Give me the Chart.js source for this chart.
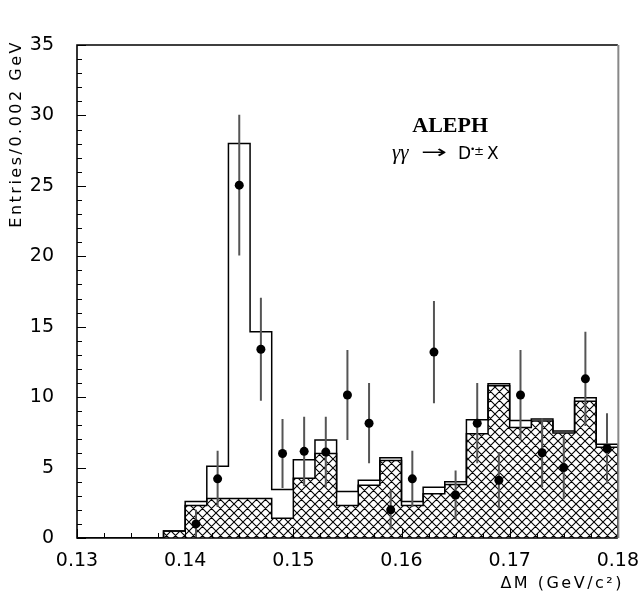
<!DOCTYPE html>
<html>
<head>
<meta charset="utf-8">
<script src="https://cdn.jsdelivr.net/npm/chart.js@4.4.0/dist/chart.umd.min.js"></script>
<style>
  html, body { margin: 0; padding: 0; background: #fff; }
  canvas { display: block; }
</style>
</head>
<body>
<canvas id="aleph" width="643" height="603"></canvas>
<script>
// края бинов (шаг 0.002 GeV)
const binEdges = [0.130, 0.132, 0.134, 0.136, 0.138, 0.140, 0.142, 0.144, 0.146, 0.148,
  0.150, 0.152, 0.154, 0.156, 0.158, 0.160, 0.162, 0.164, 0.166, 0.168,
  0.170, 0.172, 0.174, 0.176, 0.178, 0.180];

// сигнал + фон (открытая гистограмма)
const totalValues = [0, 0, 0, 0, 0.5, 2.6, 5.1, 28.0, 14.65, 3.45,
  5.55, 6.95, 3.3, 4.1, 5.7, 2.6, 3.6, 4.0, 8.4, 10.95,
  8.35, 8.45, 7.6, 9.95, 6.65];

// фон (заштрихованная гистограмма)
const bgValues = [0, 0, 0, 0, 0.5, 2.3, 2.8, 2.8, 2.8, 1.4,
  4.25, 6.0, 2.3, 3.75, 5.5, 2.3, 3.15, 3.8, 7.4, 10.8,
  7.85, 8.3, 7.45, 9.7, 6.45];

// точки данных с ошибками
const pointX = [0.141, 0.143, 0.145, 0.147, 0.149, 0.151, 0.153, 0.155, 0.157, 0.159,
  0.161, 0.163, 0.165, 0.167, 0.169, 0.171, 0.173, 0.175, 0.177, 0.179];
const pointY = [1.0, 4.2, 25.05, 13.4, 6.0, 6.15, 6.1, 10.15, 8.15, 2.0,
  4.2, 13.2, 3.05, 8.15, 4.1, 10.15, 6.05, 5.0, 11.3, 6.35];
const pointErr = [1.0, 2.0, 5.0, 3.65, 2.45, 2.45, 2.5, 3.2, 2.85, 1.4,
  2.0, 3.63, 1.75, 2.85, 2.0, 3.2, 2.45, 2.25, 3.35, 2.5];

// подписи осей
const xTickValues = [0.13, 0.14, 0.15, 0.16, 0.17, 0.18];
const yTickValues = [0, 5, 10, 15, 20, 25, 30, 35];
const xMinorStep = 0.0025;
const yMinorStep = 1;

// ступенчатая линия гистограммы
function histPoints(values) {
  const last = binEdges.length - 1;
  const pts = [{x: binEdges[0], y: 0}];
  values.forEach((v, i) => pts.push({x: binEdges[i], y: v}));
  pts.push({x: binEdges[last], y: values[values.length - 1]});
  pts.push({x: binEdges[last], y: 0});
  return pts;
}

// вертикальные отрезки ошибок, разрывы через null
const errPoints = [];
pointX.forEach((x, i) => {
  errPoints.push({x: x, y: pointY[i] - pointErr[i]});
  errPoints.push({x: x, y: pointY[i] + pointErr[i]});
  errPoints.push({x: x, y: null});
});

// штриховка
const hatchCanvas = document.createElement('canvas');
const hs = 9;
hatchCanvas.width = hs;
hatchCanvas.height = hs;
const hc = hatchCanvas.getContext('2d');
hc.strokeStyle = '#000';
hc.lineWidth = 1.1;
hc.beginPath();
[-hs, 0, hs].forEach(k => {
  hc.moveTo(k, 0); hc.lineTo(k + hs, hs);
  hc.moveTo(k + hs, 0); hc.lineTo(k, hs);
});
hc.stroke();
const ctx = document.getElementById('aleph').getContext('2d');
const hatch = ctx.createPattern(hatchCanvas, 'repeat');

// рамка, засечки и надписи
const framePlugin = {
  id: 'frame',
  afterDraw(chart) {
    const c = chart.ctx;
    const a = chart.chartArea;
    const xs = chart.scales.x;
    const ys = chart.scales.y;
    c.save();

    // засечки внутрь
    c.strokeStyle = '#000';
    c.lineWidth = 1;
    c.beginPath();
    for (let v = ys.min; v <= ys.max + 1e-9; v += yMinorStep) {
      const py = Math.round(ys.getPixelForValue(v)) + 0.5;
      const len = yTickValues.includes(Math.round(v)) ? 9 : 5;
      c.moveTo(a.left, py); c.lineTo(a.left + len, py);
    }
    for (let v = xs.min; v <= xs.max + 1e-9; v += xMinorStep) {
      const px = Math.round(xs.getPixelForValue(v)) + 0.5;
      const major = xTickValues.some(t => Math.abs(t - v) < 1e-6);
      c.moveTo(px, a.bottom); c.lineTo(px, a.bottom - (major ? 9 : 5));
    }
    c.stroke();

    // рамка
    c.lineWidth = 1.6;
    c.strokeStyle = '#000';
    c.beginPath();
    c.moveTo(a.right, a.top); c.lineTo(a.left, a.top);
    c.lineTo(a.left, a.bottom); c.lineTo(a.right, a.bottom);
    c.stroke();
    c.strokeStyle = '#888';
    c.lineWidth = 2;
    c.beginPath();
    c.moveTo(a.right + 0.5, a.top); c.lineTo(a.right + 0.5, a.bottom);
    c.stroke();

    // названия осей
    c.fillStyle = '#000';
    c.letterSpacing = '2.5px';
    c.font = '16px "DejaVu Sans"';
    c.textBaseline = 'middle';
    c.textAlign = 'right';
    c.fillText('ΔM (GeV/c²)', 624, 584);
    c.save();
    c.translate(17, 40);
    c.rotate(-Math.PI / 2);
    c.fillText('Entries/0.002 GeV', 0, 0);
    c.restore();
    c.letterSpacing = '0px';

    // ALEPH и реакция
    c.textBaseline = 'alphabetic';
    c.textAlign = 'center';
    c.font = 'bold 22px "Liberation Serif"';
    c.fillText('ALEPH', xs.getPixelForValue(0.1645), ys.getPixelForValue(28.8));

    const base = ys.getPixelForValue(26.9);
    c.textAlign = 'left';
    c.font = 'italic 21px "Liberation Serif"';
    c.fillText('γγ', 392, base);
    c.font = '18px "DejaVu Sans"';
    const aw = c.measureText('→').width;
    c.save();
    c.translate(421, base - 1);
    c.scale(26 / aw, 1);
    c.fillText('→', 0, 0);
    c.restore();
    c.font = '17px "DejaVu Sans"';
    c.fillText('D', 458, base);
    c.font = '9px "DejaVu Sans"';
    c.fillText('•', 470, base - 7);
    c.font = '12px "DejaVu Sans"';
    c.fillText('±', 474, base - 4);
    c.font = '17px "DejaVu Sans"';
    c.fillText('X', 487, base);

    c.restore();
  }
};

const chart = new Chart(ctx, {
  type: 'line',
  data: {
    datasets: [
      {
        label: 'данные',
        data: pointX.map((x, i) => ({x: x, y: pointY[i]})),
        showLine: false,
        pointRadius: 4.5,
        pointBackgroundColor: '#000',
        pointBorderColor: '#000',
        pointBorderWidth: 0,
        order: 0,
      },
      {
        label: 'ошибки',
        data: errPoints,
        borderColor: '#555',
        borderWidth: 2,
        pointRadius: 0,
        spanGaps: false,
        fill: false,
        order: 1,
      },
      {
        label: 'фон',
        data: histPoints(bgValues),
        stepped: 'before',
        borderColor: '#000',
        borderWidth: 1.5,
        backgroundColor: hatch,
        fill: 'origin',
        pointRadius: 0,
        order: 2,
      },
      {
        label: 'сумма',
        data: histPoints(totalValues),
        stepped: 'before',
        borderColor: '#000',
        borderWidth: 1.5,
        fill: false,
        pointRadius: 0,
        order: 3,
      },
    ],
  },
  options: {
    responsive: false,
    animation: false,
    devicePixelRatio: 1,
    layout: {padding: {left: 0, top: 45, right: 23, bottom: 0}},
    plugins: {
      legend: {display: false},
      tooltip: {enabled: false},
    },
    scales: {
      x: {
        type: 'linear',
        min: 0.13,
        max: 0.18,
        afterBuildTicks: (scale) => { scale.ticks = xTickValues.map(v => ({value: v})); },
        afterFit: (scale) => { scale.height = 65; },
        grid: {display: false},
        border: {display: false},
        ticks: {
          padding: 4,
          color: '#000',
          font: {family: '"DejaVu Sans"', size: 19},
          maxRotation: 0,
          callback: (v) => v.toFixed(2),
        },
      },
      y: {
        type: 'linear',
        min: 0,
        max: 35,
        afterBuildTicks: (scale) => { scale.ticks = yTickValues.map(v => ({value: v})); },
        afterFit: (scale) => { scale.width = 77; },
        grid: {display: false},
        border: {display: false},
        ticks: {
          padding: 15,
          color: '#000',
          font: {family: '"DejaVu Sans"', size: 19},
          callback: (v) => String(v),
        },
      },
    },
  },
  plugins: [framePlugin],
});
</script>
</body>
</html>
